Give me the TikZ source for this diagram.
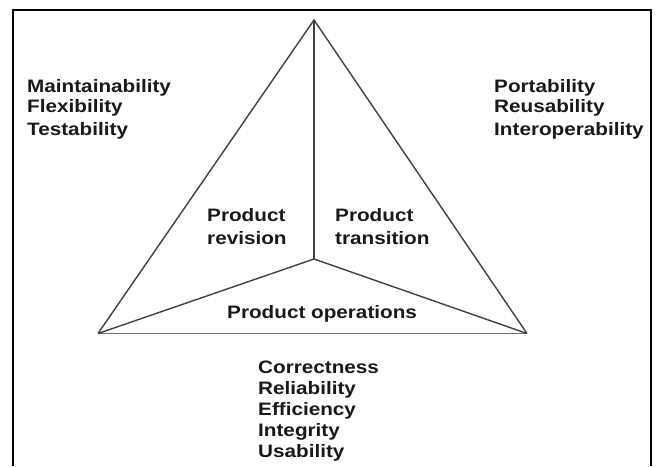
\documentclass[tikz,border=0pt]{standalone}
\usepackage{fontspec}
\setmainfont{Liberation Sans}[FakeStretch=1.15]
\begin{document}
\begin{tikzpicture}[x=1pt,y=-1pt,
  lab/.style={anchor=base west,inner sep=0pt,font=\fontsize{18}{21}\selectfont\bfseries,text=black!90},
  edge/.style={draw=black!75,line width=1.4pt,line join=miter},
  baseedge/.style={draw=black!55,line width=1.8pt}]
\useasboundingbox (0,0) rectangle (656,466);
\draw[line width=1.2pt] (13,466) -- (13,10) -- (651,10) -- (651,466);
\coordinate (T) at (314,20);
\coordinate (L) at (98,333.5);
\coordinate (R) at (527,333.5);
\coordinate (C) at (314,259);
\draw[baseedge] (L) -- (R);
\draw[edge] (L) -- (T) -- (R);
\draw[edge] (T) -- (C);
\draw[edge] (L) -- (C) -- (R);
% left list
\node[lab] (m1) at (27,92) {Maintainability};
\node[lab] (m2) at (27,112.5) {Flexibility};
\node[lab] (m3) at (27,135) {Testability};
% right list
\node[lab] (p1) at (494,92) {Portability};
\node[lab] (p2) at (494,112.5) {Reusability};
\node[lab] (p3) at (494,135) {Interoperability};
% inner labels
\node[lab] (r1) at (207,221) {Product};
\node[lab] (r2) at (207,244) {revision};
\node[lab] (t1) at (335,221) {Product};
\node[lab] (t2) at (335,244) {transition};
\node[lab] (o1) at (227,318) {Product operations};
% bottom list
\node[lab] (c1) at (258,373) {Correctness};
\node[lab] (c2) at (258,394.5) {Reliability};
\node[lab] (c3) at (258,415.5) {Efficiency};
\node[lab] (c4) at (258,436.5) {Integrity};
\node[lab] (c5) at (258,457.5) {Usability};
\end{tikzpicture}
\end{document}
